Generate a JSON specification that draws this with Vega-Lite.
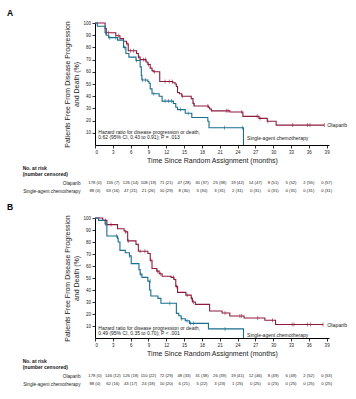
{
  "$schema": "https://vega.github.io/schema/vega-lite/v6.json",
  "padding": {"left": 7, "top": 8, "right": 0, "bottom": 0},
  "background": "white",
  "config": {
    "font": "Liberation Sans",
    "view": {"stroke": null},
    "axis": {"domainColor": "#000", "tickColor": "#000", "labelColor": "#222", "titleColor": "#222", "grid": false, "domainWidth": 1, "tickWidth": 0.8},
    "axisX": {"titleFontSize": 7, "titleFontWeight": "normal", "labelFontSize": 4.5, "tickSize": 3, "labelPadding": 1.5, "titlePadding": 2},
    "axisY": {"titleFontSize": 7, "titleFontWeight": "normal", "titleLineHeight": 9.5, "labelFontSize": 4.5, "tickSize": 3, "labelPadding": 1.5, "titlePadding": 3}
  },
  "datasets": {
    "km": [
      {"panel": "A", "arm": "Olaparib", "month": 0, "pct": 100},
      {"panel": "A", "arm": "Olaparib", "month": 1.7, "pct": 95.4},
      {"panel": "A", "arm": "Olaparib", "month": 1.9, "pct": 92},
      {"panel": "A", "arm": "Olaparib", "month": 3.5, "pct": 89.6},
      {"panel": "A", "arm": "Olaparib", "month": 4.2, "pct": 87.2},
      {"panel": "A", "arm": "Olaparib", "month": 4.8, "pct": 85},
      {"panel": "A", "arm": "Olaparib", "month": 5.3, "pct": 83},
      {"panel": "A", "arm": "Olaparib", "month": 5.6, "pct": 77.3},
      {"panel": "A", "arm": "Olaparib", "month": 7.0, "pct": 75},
      {"panel": "A", "arm": "Olaparib", "month": 7.3, "pct": 72},
      {"panel": "A", "arm": "Olaparib", "month": 7.6, "pct": 70},
      {"panel": "A", "arm": "Olaparib", "month": 8.6, "pct": 68},
      {"panel": "A", "arm": "Olaparib", "month": 8.9, "pct": 66},
      {"panel": "A", "arm": "Olaparib", "month": 9.3, "pct": 63},
      {"panel": "A", "arm": "Olaparib", "month": 9.6, "pct": 61},
      {"panel": "A", "arm": "Olaparib", "month": 9.8, "pct": 60},
      {"panel": "A", "arm": "Olaparib", "month": 10.9, "pct": 52},
      {"panel": "A", "arm": "Olaparib", "month": 13.1, "pct": 51},
      {"panel": "A", "arm": "Olaparib", "month": 13.5, "pct": 50},
      {"panel": "A", "arm": "Olaparib", "month": 13.7, "pct": 48},
      {"panel": "A", "arm": "Olaparib", "month": 13.9, "pct": 43},
      {"panel": "A", "arm": "Olaparib", "month": 14.2, "pct": 42},
      {"panel": "A", "arm": "Olaparib", "month": 14.6, "pct": 40},
      {"panel": "A", "arm": "Olaparib", "month": 16.2, "pct": 38},
      {"panel": "A", "arm": "Olaparib", "month": 16.5, "pct": 34},
      {"panel": "A", "arm": "Olaparib", "month": 16.7, "pct": 32},
      {"panel": "A", "arm": "Olaparib", "month": 19.1, "pct": 31},
      {"panel": "A", "arm": "Olaparib", "month": 19.3, "pct": 29.5},
      {"panel": "A", "arm": "Olaparib", "month": 19.6, "pct": 28},
      {"panel": "A", "arm": "Olaparib", "month": 22.7, "pct": 27},
      {"panel": "A", "arm": "Olaparib", "month": 24.9, "pct": 23.5},
      {"panel": "A", "arm": "Olaparib", "month": 27.6, "pct": 21.8},
      {"panel": "A", "arm": "Olaparib", "month": 29.0, "pct": 19.5},
      {"panel": "A", "arm": "Olaparib", "month": 30.5, "pct": 16.3},
      {"panel": "A", "arm": "Olaparib", "month": 38.6, "pct": 16.3},
      {"panel": "A", "arm": "Single-agent chemotherapy", "month": 0, "pct": 100},
      {"panel": "A", "arm": "Single-agent chemotherapy", "month": 0.4, "pct": 97.3},
      {"panel": "A", "arm": "Single-agent chemotherapy", "month": 1.7, "pct": 92},
      {"panel": "A", "arm": "Single-agent chemotherapy", "month": 1.9, "pct": 90},
      {"panel": "A", "arm": "Single-agent chemotherapy", "month": 2.3, "pct": 88},
      {"panel": "A", "arm": "Single-agent chemotherapy", "month": 3.8, "pct": 86},
      {"panel": "A", "arm": "Single-agent chemotherapy", "month": 4.8, "pct": 80},
      {"panel": "A", "arm": "Single-agent chemotherapy", "month": 5.2, "pct": 75},
      {"panel": "A", "arm": "Single-agent chemotherapy", "month": 5.7, "pct": 72},
      {"panel": "A", "arm": "Single-agent chemotherapy", "month": 6.9, "pct": 69.3},
      {"panel": "A", "arm": "Single-agent chemotherapy", "month": 7.6, "pct": 64},
      {"panel": "A", "arm": "Single-agent chemotherapy", "month": 7.8, "pct": 57},
      {"panel": "A", "arm": "Single-agent chemotherapy", "month": 7.9, "pct": 53.3},
      {"panel": "A", "arm": "Single-agent chemotherapy", "month": 8.9, "pct": 52},
      {"panel": "A", "arm": "Single-agent chemotherapy", "month": 9.1, "pct": 50.6},
      {"panel": "A", "arm": "Single-agent chemotherapy", "month": 9.3, "pct": 46},
      {"panel": "A", "arm": "Single-agent chemotherapy", "month": 9.6, "pct": 42},
      {"panel": "A", "arm": "Single-agent chemotherapy", "month": 10.8, "pct": 40},
      {"panel": "A", "arm": "Single-agent chemotherapy", "month": 11.3, "pct": 36},
      {"panel": "A", "arm": "Single-agent chemotherapy", "month": 13.2, "pct": 34},
      {"panel": "A", "arm": "Single-agent chemotherapy", "month": 13.6, "pct": 31},
      {"panel": "A", "arm": "Single-agent chemotherapy", "month": 13.9, "pct": 29},
      {"panel": "A", "arm": "Single-agent chemotherapy", "month": 15.2, "pct": 26},
      {"panel": "A", "arm": "Single-agent chemotherapy", "month": 16.3, "pct": 22.5},
      {"panel": "A", "arm": "Single-agent chemotherapy", "month": 19.0, "pct": 19.5},
      {"panel": "A", "arm": "Single-agent chemotherapy", "month": 19.2, "pct": 14.2},
      {"panel": "A", "arm": "Single-agent chemotherapy", "month": 25.0, "pct": 0},
      {"panel": "B", "arm": "Olaparib", "month": 0, "pct": 100},
      {"panel": "B", "arm": "Olaparib", "month": 1.3, "pct": 98},
      {"panel": "B", "arm": "Olaparib", "month": 2.0, "pct": 94.5},
      {"panel": "B", "arm": "Olaparib", "month": 3.8, "pct": 91.1},
      {"panel": "B", "arm": "Olaparib", "month": 4.9, "pct": 89.2},
      {"panel": "B", "arm": "Olaparib", "month": 5.2, "pct": 88.4},
      {"panel": "B", "arm": "Olaparib", "month": 5.5, "pct": 80.9},
      {"panel": "B", "arm": "Olaparib", "month": 6.9, "pct": 78},
      {"panel": "B", "arm": "Olaparib", "month": 7.3, "pct": 72.3},
      {"panel": "B", "arm": "Olaparib", "month": 8.9, "pct": 70.4},
      {"panel": "B", "arm": "Olaparib", "month": 9.3, "pct": 64.8},
      {"panel": "B", "arm": "Olaparib", "month": 9.6, "pct": 57.9},
      {"panel": "B", "arm": "Olaparib", "month": 10.4, "pct": 55.7},
      {"panel": "B", "arm": "Olaparib", "month": 10.8, "pct": 53.5},
      {"panel": "B", "arm": "Olaparib", "month": 11.3, "pct": 51.5},
      {"panel": "B", "arm": "Olaparib", "month": 12.8, "pct": 50.5},
      {"panel": "B", "arm": "Olaparib", "month": 13.3, "pct": 48.8},
      {"panel": "B", "arm": "Olaparib", "month": 13.6, "pct": 43},
      {"panel": "B", "arm": "Olaparib", "month": 13.9, "pct": 38},
      {"panel": "B", "arm": "Olaparib", "month": 15.3, "pct": 35.7},
      {"panel": "B", "arm": "Olaparib", "month": 16.2, "pct": 33},
      {"panel": "B", "arm": "Olaparib", "month": 16.4, "pct": 30},
      {"panel": "B", "arm": "Olaparib", "month": 16.9, "pct": 28},
      {"panel": "B", "arm": "Olaparib", "month": 19.3, "pct": 22.5},
      {"panel": "B", "arm": "Olaparib", "month": 21.4, "pct": 20.8},
      {"panel": "B", "arm": "Olaparib", "month": 22.7, "pct": 18.3},
      {"panel": "B", "arm": "Olaparib", "month": 25.1, "pct": 16.7},
      {"panel": "B", "arm": "Olaparib", "month": 28.6, "pct": 14.8},
      {"panel": "B", "arm": "Olaparib", "month": 30.4, "pct": 11.2},
      {"panel": "B", "arm": "Olaparib", "month": 38.4, "pct": 11.2},
      {"panel": "B", "arm": "Single-agent chemotherapy", "month": 0, "pct": 100},
      {"panel": "B", "arm": "Single-agent chemotherapy", "month": 0.6, "pct": 98},
      {"panel": "B", "arm": "Single-agent chemotherapy", "month": 1.7, "pct": 95},
      {"panel": "B", "arm": "Single-agent chemotherapy", "month": 2.0, "pct": 85},
      {"panel": "B", "arm": "Single-agent chemotherapy", "month": 3.8, "pct": 83},
      {"panel": "B", "arm": "Single-agent chemotherapy", "month": 3.9, "pct": 80},
      {"panel": "B", "arm": "Single-agent chemotherapy", "month": 4.2, "pct": 73},
      {"panel": "B", "arm": "Single-agent chemotherapy", "month": 5.1, "pct": 71},
      {"panel": "B", "arm": "Single-agent chemotherapy", "month": 5.8, "pct": 68.4},
      {"panel": "B", "arm": "Single-agent chemotherapy", "month": 6.1, "pct": 62},
      {"panel": "B", "arm": "Single-agent chemotherapy", "month": 7.4, "pct": 57},
      {"panel": "B", "arm": "Single-agent chemotherapy", "month": 7.6, "pct": 53.2},
      {"panel": "B", "arm": "Single-agent chemotherapy", "month": 7.9, "pct": 50.5},
      {"panel": "B", "arm": "Single-agent chemotherapy", "month": 8.9, "pct": 47.4},
      {"panel": "B", "arm": "Single-agent chemotherapy", "month": 9.2, "pct": 40},
      {"panel": "B", "arm": "Single-agent chemotherapy", "month": 9.4, "pct": 35},
      {"panel": "B", "arm": "Single-agent chemotherapy", "month": 10.6, "pct": 33},
      {"panel": "B", "arm": "Single-agent chemotherapy", "month": 11.1, "pct": 29},
      {"panel": "B", "arm": "Single-agent chemotherapy", "month": 13.7, "pct": 20.5},
      {"panel": "B", "arm": "Single-agent chemotherapy", "month": 14.1, "pct": 18.5},
      {"panel": "B", "arm": "Single-agent chemotherapy", "month": 14.5, "pct": 16},
      {"panel": "B", "arm": "Single-agent chemotherapy", "month": 15.2, "pct": 14.4},
      {"panel": "B", "arm": "Single-agent chemotherapy", "month": 15.9, "pct": 12.2},
      {"panel": "B", "arm": "Single-agent chemotherapy", "month": 19.1, "pct": 7.6},
      {"panel": "B", "arm": "Single-agent chemotherapy", "month": 25.0, "pct": 0}
    ],
    "censor": [
      {"panel": "A", "arm": "Olaparib", "month": 2.3, "pct": 92},
      {"panel": "A", "arm": "Olaparib", "month": 4.0, "pct": 89.6},
      {"panel": "A", "arm": "Olaparib", "month": 5.4, "pct": 83},
      {"panel": "A", "arm": "Olaparib", "month": 6.0, "pct": 77.3},
      {"panel": "A", "arm": "Olaparib", "month": 6.5, "pct": 77.3},
      {"panel": "A", "arm": "Olaparib", "month": 7.4, "pct": 72},
      {"panel": "A", "arm": "Olaparib", "month": 8.2, "pct": 70},
      {"panel": "A", "arm": "Olaparib", "month": 8.5, "pct": 70},
      {"panel": "A", "arm": "Olaparib", "month": 9.0, "pct": 66},
      {"panel": "A", "arm": "Olaparib", "month": 10.0, "pct": 60},
      {"panel": "A", "arm": "Olaparib", "month": 11.8, "pct": 52},
      {"panel": "A", "arm": "Olaparib", "month": 12.5, "pct": 52},
      {"panel": "A", "arm": "Olaparib", "month": 13.0, "pct": 52},
      {"panel": "A", "arm": "Olaparib", "month": 14.7, "pct": 40},
      {"panel": "A", "arm": "Olaparib", "month": 16.6, "pct": 34},
      {"panel": "A", "arm": "Olaparib", "month": 19.0, "pct": 32},
      {"panel": "A", "arm": "Olaparib", "month": 22.1, "pct": 28},
      {"panel": "A", "arm": "Olaparib", "month": 22.4, "pct": 28},
      {"panel": "A", "arm": "Olaparib", "month": 24.7, "pct": 27},
      {"panel": "A", "arm": "Olaparib", "month": 27.3, "pct": 23.5},
      {"panel": "A", "arm": "Olaparib", "month": 27.8, "pct": 21.8},
      {"panel": "A", "arm": "Olaparib", "month": 29.1, "pct": 19.5},
      {"panel": "A", "arm": "Olaparib", "month": 33.3, "pct": 16.3},
      {"panel": "A", "arm": "Olaparib", "month": 35.8, "pct": 16.3},
      {"panel": "A", "arm": "Olaparib", "month": 36.2, "pct": 16.3},
      {"panel": "A", "arm": "Olaparib", "month": 38.6, "pct": 16.3},
      {"panel": "A", "arm": "Single-agent chemotherapy", "month": 1.8, "pct": 92},
      {"panel": "A", "arm": "Single-agent chemotherapy", "month": 2.5, "pct": 88},
      {"panel": "A", "arm": "Single-agent chemotherapy", "month": 3.5, "pct": 88},
      {"panel": "A", "arm": "Single-agent chemotherapy", "month": 5.0, "pct": 80},
      {"panel": "A", "arm": "Single-agent chemotherapy", "month": 7.0, "pct": 69.3},
      {"panel": "A", "arm": "Single-agent chemotherapy", "month": 8.0, "pct": 53.3},
      {"panel": "A", "arm": "Single-agent chemotherapy", "month": 8.5, "pct": 53.3},
      {"panel": "A", "arm": "Single-agent chemotherapy", "month": 9.9, "pct": 42},
      {"panel": "A", "arm": "Single-agent chemotherapy", "month": 11.8, "pct": 36},
      {"panel": "A", "arm": "Single-agent chemotherapy", "month": 12.4, "pct": 36},
      {"panel": "A", "arm": "Single-agent chemotherapy", "month": 12.9, "pct": 36},
      {"panel": "A", "arm": "Single-agent chemotherapy", "month": 14.4, "pct": 29},
      {"panel": "A", "arm": "Single-agent chemotherapy", "month": 15.7, "pct": 26},
      {"panel": "A", "arm": "Single-agent chemotherapy", "month": 21.8, "pct": 14.2},
      {"panel": "A", "arm": "Single-agent chemotherapy", "month": 24.8, "pct": 14.2},
      {"panel": "B", "arm": "Olaparib", "month": 1.8, "pct": 98},
      {"panel": "B", "arm": "Olaparib", "month": 2.7, "pct": 94.5},
      {"panel": "B", "arm": "Olaparib", "month": 5.1, "pct": 88.4},
      {"panel": "B", "arm": "Olaparib", "month": 5.6, "pct": 80.9},
      {"panel": "B", "arm": "Olaparib", "month": 7.6, "pct": 72.3},
      {"panel": "B", "arm": "Olaparib", "month": 8.4, "pct": 72.3},
      {"panel": "B", "arm": "Olaparib", "month": 9.4, "pct": 64.8},
      {"panel": "B", "arm": "Olaparib", "month": 10.5, "pct": 55.7},
      {"panel": "B", "arm": "Olaparib", "month": 11.0, "pct": 53.5},
      {"panel": "B", "arm": "Olaparib", "month": 13.2, "pct": 50.5},
      {"panel": "B", "arm": "Olaparib", "month": 13.7, "pct": 43},
      {"panel": "B", "arm": "Olaparib", "month": 15.5, "pct": 35.7},
      {"panel": "B", "arm": "Olaparib", "month": 16.3, "pct": 33},
      {"panel": "B", "arm": "Olaparib", "month": 16.6, "pct": 30},
      {"panel": "B", "arm": "Olaparib", "month": 21.9, "pct": 20.8},
      {"panel": "B", "arm": "Olaparib", "month": 24.4, "pct": 18.3},
      {"panel": "B", "arm": "Olaparib", "month": 24.7, "pct": 18.3},
      {"panel": "B", "arm": "Olaparib", "month": 27.4, "pct": 16.7},
      {"panel": "B", "arm": "Olaparib", "month": 29.9, "pct": 14.8},
      {"panel": "B", "arm": "Olaparib", "month": 33.2, "pct": 11.2},
      {"panel": "B", "arm": "Olaparib", "month": 33.5, "pct": 11.2},
      {"panel": "B", "arm": "Olaparib", "month": 35.8, "pct": 11.2},
      {"panel": "B", "arm": "Olaparib", "month": 36.3, "pct": 11.2},
      {"panel": "B", "arm": "Olaparib", "month": 38.4, "pct": 11.2},
      {"panel": "B", "arm": "Single-agent chemotherapy", "month": 1.8, "pct": 95},
      {"panel": "B", "arm": "Single-agent chemotherapy", "month": 3.6, "pct": 85},
      {"panel": "B", "arm": "Single-agent chemotherapy", "month": 5.8, "pct": 68.4},
      {"panel": "B", "arm": "Single-agent chemotherapy", "month": 7.7, "pct": 53.2},
      {"panel": "B", "arm": "Single-agent chemotherapy", "month": 9.3, "pct": 47.4},
      {"panel": "B", "arm": "Single-agent chemotherapy", "month": 12.6, "pct": 29},
      {"panel": "B", "arm": "Single-agent chemotherapy", "month": 14.6, "pct": 16},
      {"panel": "B", "arm": "Single-agent chemotherapy", "month": 15.5, "pct": 14.4},
      {"panel": "B", "arm": "Single-agent chemotherapy", "month": 16.1, "pct": 12.2},
      {"panel": "B", "arm": "Single-agent chemotherapy", "month": 16.6, "pct": 12.2},
      {"panel": "B", "arm": "Single-agent chemotherapy", "month": 21.9, "pct": 7.6}
    ],
    "notes": [
      {"panel": "A", "kind": "hr", "t": "Hazard ratio for disease progression or death,\n0.62 (95% CI, 0.43 to 0.91); P = .013"},
      {"panel": "A", "kind": "olap", "t": "Olaparib"},
      {"panel": "A", "kind": "chemo", "t": "Single-agent chemotherapy"},
      {"panel": "B", "kind": "hr", "t": "Hazard ratio for disease progression or death,\n0.49 (95% CI, 0.35 to 0.70); P < .001"},
      {"panel": "B", "kind": "olap", "t": "Olaparib"},
      {"panel": "B", "kind": "chemo", "t": "Single-agent chemotherapy"}
    ],
    "risk": [
      {"panel": "A", "arm": "Olaparib", "month": 0, "n": "178 (0)"},
      {"panel": "A", "arm": "Olaparib", "month": 3, "n": "155 (7)"},
      {"panel": "A", "arm": "Olaparib", "month": 6, "n": "126 (14)"},
      {"panel": "A", "arm": "Olaparib", "month": 9, "n": "108 (19)"},
      {"panel": "A", "arm": "Olaparib", "month": 12, "n": "71 (21)"},
      {"panel": "A", "arm": "Olaparib", "month": 15, "n": "47 (28)"},
      {"panel": "A", "arm": "Olaparib", "month": 18, "n": "30 (37)"},
      {"panel": "A", "arm": "Olaparib", "month": 21, "n": "25 (38)"},
      {"panel": "A", "arm": "Olaparib", "month": 24, "n": "19 (42)"},
      {"panel": "A", "arm": "Olaparib", "month": 27, "n": "14 (47)"},
      {"panel": "A", "arm": "Olaparib", "month": 30, "n": "8 (51)"},
      {"panel": "A", "arm": "Olaparib", "month": 33, "n": "5 (52)"},
      {"panel": "A", "arm": "Olaparib", "month": 36, "n": "2 (55)"},
      {"panel": "A", "arm": "Olaparib", "month": 39, "n": "0 (57)"},
      {"panel": "A", "arm": "Single-agent chemotherapy", "month": 0, "n": "88 (0)"},
      {"panel": "A", "arm": "Single-agent chemotherapy", "month": 3, "n": "63 (16)"},
      {"panel": "A", "arm": "Single-agent chemotherapy", "month": 6, "n": "47 (21)"},
      {"panel": "A", "arm": "Single-agent chemotherapy", "month": 9, "n": "21 (26)"},
      {"panel": "A", "arm": "Single-agent chemotherapy", "month": 12, "n": "10 (29)"},
      {"panel": "A", "arm": "Single-agent chemotherapy", "month": 15, "n": "8 (30)"},
      {"panel": "A", "arm": "Single-agent chemotherapy", "month": 18, "n": "5 (30)"},
      {"panel": "A", "arm": "Single-agent chemotherapy", "month": 21, "n": "3 (31)"},
      {"panel": "A", "arm": "Single-agent chemotherapy", "month": 24, "n": "2 (31)"},
      {"panel": "A", "arm": "Single-agent chemotherapy", "month": 27, "n": "0 (31)"},
      {"panel": "A", "arm": "Single-agent chemotherapy", "month": 30, "n": "0 (31)"},
      {"panel": "A", "arm": "Single-agent chemotherapy", "month": 33, "n": "0 (31)"},
      {"panel": "A", "arm": "Single-agent chemotherapy", "month": 36, "n": "0 (31)"},
      {"panel": "A", "arm": "Single-agent chemotherapy", "month": 39, "n": "0 (31)"},
      {"panel": "B", "arm": "Olaparib", "month": 0, "n": "178 (0)"},
      {"panel": "B", "arm": "Olaparib", "month": 3, "n": "146 (12)"},
      {"panel": "B", "arm": "Olaparib", "month": 6, "n": "126 (18)"},
      {"panel": "B", "arm": "Olaparib", "month": 9, "n": "110 (22)"},
      {"panel": "B", "arm": "Olaparib", "month": 12, "n": "72 (29)"},
      {"panel": "B", "arm": "Olaparib", "month": 15, "n": "48 (33)"},
      {"panel": "B", "arm": "Olaparib", "month": 18, "n": "31 (38)"},
      {"panel": "B", "arm": "Olaparib", "month": 21, "n": "26 (39)"},
      {"panel": "B", "arm": "Olaparib", "month": 24, "n": "19 (41)"},
      {"panel": "B", "arm": "Olaparib", "month": 27, "n": "12 (46)"},
      {"panel": "B", "arm": "Olaparib", "month": 30, "n": "8 (49)"},
      {"panel": "B", "arm": "Olaparib", "month": 33, "n": "6 (49)"},
      {"panel": "B", "arm": "Olaparib", "month": 36, "n": "2 (52)"},
      {"panel": "B", "arm": "Olaparib", "month": 39, "n": "0 (53)"},
      {"panel": "B", "arm": "Single-agent chemotherapy", "month": 0, "n": "88 (0)"},
      {"panel": "B", "arm": "Single-agent chemotherapy", "month": 3, "n": "62 (16)"},
      {"panel": "B", "arm": "Single-agent chemotherapy", "month": 6, "n": "43 (17)"},
      {"panel": "B", "arm": "Single-agent chemotherapy", "month": 9, "n": "24 (18)"},
      {"panel": "B", "arm": "Single-agent chemotherapy", "month": 12, "n": "10 (20)"},
      {"panel": "B", "arm": "Single-agent chemotherapy", "month": 15, "n": "6 (21)"},
      {"panel": "B", "arm": "Single-agent chemotherapy", "month": 18, "n": "5 (22)"},
      {"panel": "B", "arm": "Single-agent chemotherapy", "month": 21, "n": "3 (23)"},
      {"panel": "B", "arm": "Single-agent chemotherapy", "month": 24, "n": "1 (25)"},
      {"panel": "B", "arm": "Single-agent chemotherapy", "month": 27, "n": "0 (25)"},
      {"panel": "B", "arm": "Single-agent chemotherapy", "month": 30, "n": "0 (25)"},
      {"panel": "B", "arm": "Single-agent chemotherapy", "month": 33, "n": "0 (25)"},
      {"panel": "B", "arm": "Single-agent chemotherapy", "month": 36, "n": "0 (25)"},
      {"panel": "B", "arm": "Single-agent chemotherapy", "month": 39, "n": "0 (25)"}
    ]
  },
  "spacing": 8,
  "vconcat": [
    {
      "spacing": 3,
      "vconcat": [
        {
          "width": 234,
          "height": 122,
          "title": {"text": "A", "anchor": "start", "frame": "group", "dx": -88, "fontSize": 8.5, "fontWeight": "bold", "color": "#000", "offset": 3},
          "layer": [
            {"data": {"name": "km"}, "transform": [{"filter": "datum.panel === 'A'"}],
             "mark": {"type": "line", "interpolate": "step-after", "strokeWidth": 1.1},
             "encoding": {
               "x": {"field": "month", "type": "quantitative", "scale": {"domain": [0, 39.4], "nice": false}, "axis": {"title": "Time Since Random Assignment (months)", "values": [0, 3, 6, 9, 12, 15, 18, 21, 24, 27, 30, 33, 36, 39]}},
               "y": {"field": "pct", "type": "quantitative", "scale": {"domain": [0, 100], "nice": false}, "axis": {"title": ["Patients Free From Disease Progression", "and Death (%)"], "values": [10, 20, 30, 40, 50, 60, 70, 80, 90, 100]}},
               "color": {"field": "arm", "type": "nominal", "scale": {"domain": ["Olaparib", "Single-agent chemotherapy"], "range": ["#8E1B3C", "#1A6E8E"]}, "legend": null}
             }},
            {"data": {"name": "censor"}, "transform": [{"filter": "datum.panel === 'A'"}],
             "mark": {"type": "tick", "orient": "vertical", "size": 4, "thickness": 0.8},
             "encoding": {
               "x": {"field": "month", "type": "quantitative", "scale": {"domain": [0, 39.4], "nice": false}, "axis": {"title": "Time Since Random Assignment (months)", "values": [0, 3, 6, 9, 12, 15, 18, 21, 24, 27, 30, 33, 36, 39]}},
               "y": {"field": "pct", "type": "quantitative", "scale": {"domain": [0, 100], "nice": false}, "axis": {"title": ["Patients Free From Disease Progression", "and Death (%)"], "values": [10, 20, 30, 40, 50, 60, 70, 80, 90, 100]}},
               "color": {"field": "arm", "type": "nominal", "scale": {"domain": ["Olaparib", "Single-agent chemotherapy"], "range": ["#8E1B3C", "#1A6E8E"]}, "legend": null}
             }},
            {"data": {"name": "notes"}, "transform": [{"filter": "datum.panel === 'A' && datum.kind === 'hr'"}],
             "mark": {"type": "text", "align": "left", "baseline": "top", "fontSize": 5, "lineBreak": "\n", "lineHeight": 5.5, "color": "#222"},
             "encoding": {
               "x": {"datum": 0.55, "type": "quantitative", "scale": {"domain": [0, 39.4], "nice": false}, "axis": {"title": "Time Since Random Assignment (months)", "values": [0, 3, 6, 9, 12, 15, 18, 21, 24, 27, 30, 33, 36, 39]}},
               "y": {"datum": 12.3, "type": "quantitative", "scale": {"domain": [0, 100], "nice": false}, "axis": {"title": ["Patients Free From Disease Progression", "and Death (%)"], "values": [10, 20, 30, 40, 50, 60, 70, 80, 90, 100]}},
               "text": {"field": "t", "type": "nominal"}}},
            {"data": {"name": "notes"}, "transform": [{"filter": "datum.panel === 'A' && datum.kind === 'olap'"}],
             "mark": {"type": "text", "align": "left", "baseline": "middle", "fontSize": 5.3, "color": "#222"},
             "encoding": {
               "x": {"datum": 39.1, "type": "quantitative", "scale": {"domain": [0, 39.4], "nice": false}, "axis": {"title": "Time Since Random Assignment (months)", "values": [0, 3, 6, 9, 12, 15, 18, 21, 24, 27, 30, 33, 36, 39]}},
               "y": {"datum": 16.6, "type": "quantitative", "scale": {"domain": [0, 100], "nice": false}, "axis": {"title": ["Patients Free From Disease Progression", "and Death (%)"], "values": [10, 20, 30, 40, 50, 60, 70, 80, 90, 100]}},
               "text": {"field": "t", "type": "nominal"}}},
            {"data": {"name": "notes"}, "transform": [{"filter": "datum.panel === 'A' && datum.kind === 'chemo'"}],
             "mark": {"type": "text", "align": "left", "baseline": "middle", "fontSize": 5, "color": "#222"},
             "encoding": {
               "x": {"datum": 25.6, "type": "quantitative", "scale": {"domain": [0, 39.4], "nice": false}, "axis": {"title": "Time Since Random Assignment (months)", "values": [0, 3, 6, 9, 12, 15, 18, 21, 24, 27, 30, 33, 36, 39]}},
               "y": {"datum": 5.6, "type": "quantitative", "scale": {"domain": [0, 100], "nice": false}, "axis": {"title": ["Patients Free From Disease Progression", "and Death (%)"], "values": [10, 20, 30, 40, 50, 60, 70, 80, 90, 100]}},
               "text": {"field": "t", "type": "nominal"}}}
          ]
        },
        {
          "width": 234,
          "height": 16,
          "data": {"name": "risk"},
          "transform": [{"filter": "datum.panel === 'A'"}],
          "title": {"text": ["No. at risk", "(number censored)"], "anchor": "start", "frame": "bounds", "fontSize": 5, "fontWeight": "bold", "lineHeight": 6, "offset": 2, "color": "#111"},
          "mark": {"type": "text", "fontSize": 4.2, "color": "#222"},
          "encoding": {
            "x": {"field": "month", "type": "quantitative", "scale": {"domain": [0, 39.4], "nice": false}, "axis": null},
            "y": {"field": "arm", "type": "nominal", "sort": ["Olaparib", "Single-agent chemotherapy"], "scale": {"padding": 0.5},
                  "axis": {"title": null, "domain": false, "ticks": false, "labelPadding": 15, "labelFontSize": 4.7, "labelColor": "#222", "values": ["Olaparib", "Single-agent chemotherapy"]}},
            "text": {"field": "n"}
          }
        }
      ]
    },
    {
      "spacing": 3,
      "vconcat": [
        {
          "width": 234,
          "height": 120,
          "title": {"text": "B", "anchor": "start", "frame": "group", "dx": -88, "fontSize": 8.5, "fontWeight": "bold", "color": "#000", "offset": 3},
          "layer": [
            {"data": {"name": "km"}, "transform": [{"filter": "datum.panel === 'B'"}],
             "mark": {"type": "line", "interpolate": "step-after", "strokeWidth": 1.1},
             "encoding": {
               "x": {"field": "month", "type": "quantitative", "scale": {"domain": [0, 39.4], "nice": false}, "axis": {"title": "Time Since Random Assignment (months)", "values": [0, 3, 6, 9, 12, 15, 18, 21, 24, 27, 30, 33, 36, 39]}},
               "y": {"field": "pct", "type": "quantitative", "scale": {"domain": [0, 100], "nice": false}, "axis": {"title": ["Patients Free From Disease Progression", "and Death (%)"], "values": [10, 20, 30, 40, 50, 60, 70, 80, 90, 100]}},
               "color": {"field": "arm", "type": "nominal", "scale": {"domain": ["Olaparib", "Single-agent chemotherapy"], "range": ["#8E1B3C", "#1A6E8E"]}, "legend": null}
             }},
            {"data": {"name": "censor"}, "transform": [{"filter": "datum.panel === 'B'"}],
             "mark": {"type": "tick", "orient": "vertical", "size": 4, "thickness": 0.8},
             "encoding": {
               "x": {"field": "month", "type": "quantitative", "scale": {"domain": [0, 39.4], "nice": false}, "axis": {"title": "Time Since Random Assignment (months)", "values": [0, 3, 6, 9, 12, 15, 18, 21, 24, 27, 30, 33, 36, 39]}},
               "y": {"field": "pct", "type": "quantitative", "scale": {"domain": [0, 100], "nice": false}, "axis": {"title": ["Patients Free From Disease Progression", "and Death (%)"], "values": [10, 20, 30, 40, 50, 60, 70, 80, 90, 100]}},
               "color": {"field": "arm", "type": "nominal", "scale": {"domain": ["Olaparib", "Single-agent chemotherapy"], "range": ["#8E1B3C", "#1A6E8E"]}, "legend": null}
             }},
            {"data": {"name": "notes"}, "transform": [{"filter": "datum.panel === 'B' && datum.kind === 'hr'"}],
             "mark": {"type": "text", "align": "left", "baseline": "top", "fontSize": 5, "lineBreak": "\n", "lineHeight": 5.5, "color": "#222"},
             "encoding": {
               "x": {"datum": 0.55, "type": "quantitative", "scale": {"domain": [0, 39.4], "nice": false}, "axis": {"title": "Time Since Random Assignment (months)", "values": [0, 3, 6, 9, 12, 15, 18, 21, 24, 27, 30, 33, 36, 39]}},
               "y": {"datum": 10.3, "type": "quantitative", "scale": {"domain": [0, 100], "nice": false}, "axis": {"title": ["Patients Free From Disease Progression", "and Death (%)"], "values": [10, 20, 30, 40, 50, 60, 70, 80, 90, 100]}},
               "text": {"field": "t", "type": "nominal"}}},
            {"data": {"name": "notes"}, "transform": [{"filter": "datum.panel === 'B' && datum.kind === 'olap'"}],
             "mark": {"type": "text", "align": "left", "baseline": "middle", "fontSize": 5.3, "color": "#222"},
             "encoding": {
               "x": {"datum": 39.1, "type": "quantitative", "scale": {"domain": [0, 39.4], "nice": false}, "axis": {"title": "Time Since Random Assignment (months)", "values": [0, 3, 6, 9, 12, 15, 18, 21, 24, 27, 30, 33, 36, 39]}},
               "y": {"datum": 11.1, "type": "quantitative", "scale": {"domain": [0, 100], "nice": false}, "axis": {"title": ["Patients Free From Disease Progression", "and Death (%)"], "values": [10, 20, 30, 40, 50, 60, 70, 80, 90, 100]}},
               "text": {"field": "t", "type": "nominal"}}},
            {"data": {"name": "notes"}, "transform": [{"filter": "datum.panel === 'B' && datum.kind === 'chemo'"}],
             "mark": {"type": "text", "align": "left", "baseline": "middle", "fontSize": 5, "color": "#222"},
             "encoding": {
               "x": {"datum": 25.6, "type": "quantitative", "scale": {"domain": [0, 39.4], "nice": false}, "axis": {"title": "Time Since Random Assignment (months)", "values": [0, 3, 6, 9, 12, 15, 18, 21, 24, 27, 30, 33, 36, 39]}},
               "y": {"datum": 2.8, "type": "quantitative", "scale": {"domain": [0, 100], "nice": false}, "axis": {"title": ["Patients Free From Disease Progression", "and Death (%)"], "values": [10, 20, 30, 40, 50, 60, 70, 80, 90, 100]}},
               "text": {"field": "t", "type": "nominal"}}}
          ]
        },
        {
          "width": 234,
          "height": 16,
          "data": {"name": "risk"},
          "transform": [{"filter": "datum.panel === 'B'"}],
          "title": {"text": ["No. at risk", "(number censored)"], "anchor": "start", "frame": "bounds", "fontSize": 5, "fontWeight": "bold", "lineHeight": 6, "offset": 2, "color": "#111"},
          "mark": {"type": "text", "fontSize": 4.2, "color": "#222"},
          "encoding": {
            "x": {"field": "month", "type": "quantitative", "scale": {"domain": [0, 39.4], "nice": false}, "axis": null},
            "y": {"field": "arm", "type": "nominal", "sort": ["Olaparib", "Single-agent chemotherapy"], "scale": {"padding": 0.5},
                  "axis": {"title": null, "domain": false, "ticks": false, "labelPadding": 15, "labelFontSize": 4.7, "labelColor": "#222", "values": ["Olaparib", "Single-agent chemotherapy"]}},
            "text": {"field": "n"}
          }
        }
      ]
    }
  ]
}
